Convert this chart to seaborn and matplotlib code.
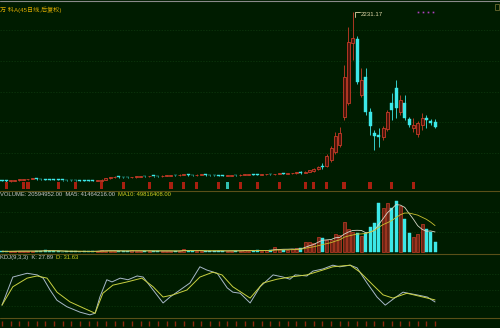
import matplotlib
matplotlib.use('Agg')
import matplotlib.pyplot as plt
import matplotlib.patches as mpatches
import seaborn as sns
import numpy as np
import pandas as pd

# ---------------- data ----------------
title = "万 科A(45日线,后复权)"
peak_label = "2231.17"
vol_label = "VOLUME: 20594952.00  MA5: 41464216.00  "
ma10_label = "MA10: 49816408.00"
kdj_label = "KDJ(9,3,3)  K: 27.89  "
d_label = "D: 31.63"

open_p = [48, 42, 38, 45, 50, 58, 62, 65, 66, 64, 60, 58, 55, 54, 52, 50, 48, 47, 46, 45,
          44, 42, 40, 45, 55, 75, 88, 92, 90, 88, 86, 90, 95, 100, 98, 104, 102, 100, 106, 110,
          115, 112, 118, 120, 115, 112, 118, 120, 116, 114, 112, 108, 106, 110, 115, 112, 118, 122, 125, 120,
          118, 124, 128, 125, 130, 135, 132, 138, 142,
          156, 149, 162, 169, 188, 233, 233, 311, 415, 506, 869, 1051, 1829, 1881, 1154, 1388,
          934, 661, 636, 610, 713, 1051, 1245, 934, 1051, 843, 726, 649, 765, 856, 817, 804]
close_p = [42, 38, 45, 50, 58, 62, 65, 66, 64, 60, 58, 55, 54, 52, 50, 48, 47, 46, 45, 44,
           42, 40, 45, 55, 75, 88, 92, 90, 88, 86, 90, 95, 100, 98, 104, 102, 100, 106, 110, 115,
           112, 118, 120, 115, 112, 118, 120, 116, 114, 112, 108, 106, 110, 115, 112, 118, 122, 125, 120, 118,
           124, 128, 125, 130, 135, 132, 138, 142, 148,
           149, 162, 175, 188, 220, 214, 363, 467, 623, 661, 1388, 1842, 1894, 1323, 1349, 934,
           752, 623, 610, 726, 934, 960, 986, 1089, 856, 765, 765, 791, 856, 830, 791, 739]
high_p = [54, 48, 51, 56, 64, 68, 71, 72, 72, 70, 66, 64, 61, 60, 58, 56, 54, 53, 52, 51,
          50, 48, 51, 61, 81, 94, 98, 98, 96, 94, 96, 101, 106, 106, 110, 110, 108, 112, 116, 121,
          121, 124, 126, 126, 121, 124, 126, 126, 122, 120, 118, 114, 116, 121, 121, 124, 128, 131, 131, 126,
          130, 134, 134, 136, 141, 141, 144, 148, 154,
          169, 169, 182, 201, 233, 272, 389, 493, 674, 739, 1543, 2036, 2231.17, 1920, 1505, 1505,
          986, 700, 726, 752, 960, 1180, 1349, 1154, 1154, 869, 856, 817, 921, 895, 843, 843]
low_p = [36, 32, 32, 39, 44, 52, 56, 59, 58, 54, 52, 49, 48, 46, 44, 42, 41, 40, 39, 38,
         36, 34, 34, 39, 49, 69, 82, 84, 82, 80, 80, 84, 89, 92, 92, 96, 94, 94, 100, 104,
         106, 106, 112, 109, 106, 106, 112, 110, 108, 106, 102, 100, 100, 104, 106, 106, 112, 116, 114, 112,
         112, 118, 119, 119, 124, 126, 126, 132, 136,
         136, 143, 156, 156, 182, 195, 220, 285, 389, 480, 830, 1025, 1608, 1297, 1128, 895,
         636, 441, 480, 571, 687, 830, 856, 895, 830, 739, 674, 610, 700, 726, 765, 726]

volume_m = [1.5, 1.2, 1.8, 2, 2.5, 2, 1.5, 1.8, 2.2, 3, 5,
            2, 1.5, 1.2, 1, 1.3, 1.5, 1.2, 1, 1.4, 1.6,
            2, 2.5, 4, 3, 2.5, 2, 1.8, 2.2, 2, 4,
            2.5, 2, 1.8, 2.5, 3, 2.2, 2, 1.8, 2.4, 2,
            3, 6, 3, 2.5, 2, 2.2, 1.8, 2, 2.5, 3,
            2, 2.4, 3, 2.6, 3, 3.5, 3, 2.8,
            4, 3, 3.5, 4, 10, 6, 5, 4, 6, 8,
            9, 21, 21, 19, 31, 29, 25, 25, 37, 35, 62, 47, 41, 39, 33, 39,
            52, 60, 101, 91, 101, 91, 105, 95, 68, 39, 31, 38, 58, 48, 42, 20.59]

signal_red = [1, 5, 6, 13, 17, 23, 28, 34, 39, 42, 45, 50, 55, 59, 64, 70, 72, 75, 79, 85, 90, 95]
signal_cyan = [52]

k_idx = [0, 2.5, 5.8, 8.1, 9.5, 11.1, 12.7, 15, 18, 20.3, 21.5, 22.6, 24.2, 25.4, 27.3, 29.1, 31.2,
         32.6, 34.9, 37.2, 38.8, 41.1, 43.4, 45.7, 47.3, 49.7, 52, 53.3, 55, 57.3, 59.6, 62.6, 64.9,
         66.5, 67.7, 70.4, 71.8, 74.1, 76.4, 78, 80.4, 82, 84.3, 86.6, 88.5, 90.3, 92.6, 93.8, 95.8,
         98.2, 100]
k_val = [22, 74, 81, 78, 72, 50, 31, 19, 9, 4, 7, 37, 69, 65, 72, 69, 76,
         74, 50, 26, 37, 50, 63, 93, 87, 81, 54, 46, 44, 26, 56, 78, 74,
         70, 78, 76, 85, 89, 96, 93, 96, 91, 63, 37, 22, 33, 46, 44, 41,
         37, 27.89]
d_idx = [0, 2.5, 5.8, 8.1, 10.4, 12.7, 15.7, 18.7, 21.5, 23.3, 25.6, 28.9, 32.3, 34.9, 37.2, 39.5,
         42.7, 45.7, 48.7, 50.8, 53.3, 57.3, 60.3, 63.5, 66.5, 70.4, 74.1, 76.4, 80.4, 82.7, 85.7,
         88, 90.3, 93.5, 97.2, 100]
d_val = [22, 56, 72, 76, 72, 46, 28, 17, 7, 44, 59, 65, 72, 56, 37, 41,
         50, 74, 83, 78, 56, 35, 63, 70, 74, 78, 87, 93, 96, 83, 59,
         41, 35, 44, 37, 31.63]

# ---------------- style ----------------
BG = '#001c00'
RED = '#c83c28'
RED_FILL = '#4a140a'
CYAN = '#3ce8e8'
SEP = '#5a5018'
GRID = '#0e3a0e'

sns.set_theme(style='dark')
plt.rcParams['font.family'] = ['Liberation Sans', 'Noto Sans CJK SC', 'DejaVu Sans']

W, H = 500, 328
fig = plt.figure(figsize=(W / 100, H / 100), dpi=100, facecolor=BG)


def add_ax(ytop, ybot):
    ax = fig.add_axes([0, 1 - ybot / H, 1, (ybot - ytop) / H])
    ax.set_facecolor(BG)
    for s in ax.spines.values():
        s.set_visible(False)
    ax.set_xticks([])
    ax.set_yticks([])
    ax.grid(False)
    ax.set_xlim(-0.46, 115.0)
    return ax


df = pd.DataFrame({'open': open_p, 'close': close_p, 'high': high_p, 'low': low_p,
                   'vol': volume_m})
df['idx'] = np.arange(len(df))
df['up'] = df['close'] >= df['open']
df['ma5'] = df['vol'].rolling(5, min_periods=1).mean()
df['ma10'] = df['vol'].rolling(10, min_periods=1).mean()

# ---------- price panel ----------
axp = add_ax(2, 190)
axp.set_ylim(-78, 2361)
for g in [1997, 1595, 1193, 804, 402]:
    axp.axhline(g, color=GRID, lw=0.5, ls=(0, (2, 2)), zorder=0)

bw = 0.7
up = df[df['up']]
dn = df[~df['up']]
axp.vlines(up['idx'], up['low'], up['high'], color=RED, lw=0.6, zorder=2)
axp.vlines(dn['idx'], dn['low'], dn['high'], color=CYAN, lw=0.6, zorder=2)
minh = 9
axp.bar(up['idx'], np.maximum(up['close'] - up['open'], minh), bottom=up['open'], width=bw,
        facecolor=RED_FILL, edgecolor=RED, lw=0.6, zorder=3)
axp.bar(dn['idx'], np.maximum(dn['open'] - dn['close'], minh), bottom=dn['close'], width=bw,
        facecolor=CYAN, edgecolor=CYAN, lw=0.3, zorder=3)

# signal markers at bottom of price panel
axp.bar(signal_red, 90, bottom=-65, width=0.75, color='#a82010', edgecolor='none', lw=0, zorder=4)
axp.bar(signal_cyan, 90, bottom=-65, width=0.75, color='#30c0b0', edgecolor='none', lw=0, zorder=4)

# peak annotation
pk = int(np.argmax(df['high']))
pv = df['high'].iloc[pk]
axp.plot([pk + 0.5, pk + 0.5, pk + 1.6], [pv - 60, pv, pv], color='#e0d8a8', lw=0.6, zorder=5)
axp.text(pk + 1.9, pv - 30, peak_label, color='#e0d8a8', fontsize=4.4, va='center',
         ha='left', zorder=5)

axp.text(0.0, 0.975, title, transform=axp.transAxes, color='#d8a800', fontsize=4.4,
         va='top', ha='left')
for xx in [0.836, 0.846, 0.856, 0.866]:
    axp.plot([xx], [0.945], transform=axp.transAxes, marker='s', ms=1.2, color='#b040c0', mec='none')

# ---------- volume panel ----------
axv = add_ax(191, 253)
axv.set_ylim(-2, 125.7)
for g in [82, 41]:
    axv.axhline(g, color=GRID, lw=0.5, ls=(0, (2, 2)), zorder=0)
axv.bar(up['idx'], up['vol'], width=bw, facecolor='#6a2414', edgecolor=RED, lw=0.5, zorder=2)
axv.bar(dn['idx'], dn['vol'], width=bw, facecolor=CYAN, edgecolor=CYAN, lw=0.3, zorder=2)
sns.lineplot(data=df, x='idx', y='ma5', ax=axv, color='#d8d8c8', lw=0.6, zorder=3)
sns.lineplot(data=df, x='idx', y='ma10', ax=axv, color='#c8c030', lw=0.6, zorder=3)
axv.set_xlabel('')
axv.set_ylabel('')
axv.set_xticks([])
axv.set_yticks([])
axv.set_xlim(-0.46, 115.0)
t1 = axv.text(0.0, 0.985, vol_label, transform=axv.transAxes, color='#c8c8c8', fontsize=4.2,
              va='top', ha='left')
fig.canvas.draw()
bb = t1.get_window_extent()
x_end = axv.transAxes.inverted().transform((bb.x1, bb.y0))[0]
axv.text(x_end, 0.985, ma10_label, transform=axv.transAxes, color='#d0d020', fontsize=4.2,
         va='top', ha='left')

# ---------- KDJ panel ----------
axk = add_ax(254, 318)
axk.set_ylim(-1.85, 116.7)
for g in [20, 50, 80]:
    axk.axhline(g, color=GRID, lw=0.5, ls=(0, (2, 2)), zorder=0)
kdf = pd.DataFrame({'idx': k_idx, 'K': k_val})
ddf = pd.DataFrame({'idx': d_idx, 'D': d_val})
sns.lineplot(data=kdf, x='idx', y='K', ax=axk, color='#a8b8c8', lw=0.7)
sns.lineplot(data=ddf, x='idx', y='D', ax=axk, color='#c8d040', lw=0.7)
axk.set_xlabel('')
axk.set_ylabel('')
axk.set_xticks([])
axk.set_yticks([])
axk.set_xlim(-0.46, 115.0)
t2 = axk.text(0.0, 0.985, kdj_label, transform=axk.transAxes, color='#c8c8c8', fontsize=4.2,
              va='top', ha='left')
fig.canvas.draw()
bb = t2.get_window_extent()
x_end = axk.transAxes.inverted().transform((bb.x1, bb.y0))[0]
axk.text(x_end, 0.985, d_label, transform=axk.transAxes, color='#d0d020', fontsize=4.2,
         va='top', ha='left')

# ---------- date strip ----------
axd = add_ax(318, 328)
axd.set_ylim(0, 1)
axd.vlines(df['idx'][::2], 0.25, 0.75, color='#8a2a10', lw=1.0)

# separators
for ypx in [1, 190.5, 253.5, 318]:
    fig.add_artist(plt.Line2D([0, 1], [1 - ypx / H, 1 - ypx / H], transform=fig.transFigure,
                              color=SEP if ypx > 2 else '#8a8a8a', lw=0.8))
fig.add_artist(mpatches.Rectangle((495 / W, 1 - 10 / H), 4 / W, 6 / H, transform=fig.transFigure,
                                  fill=False, edgecolor='#6a6a30', lw=0.6))

fig.savefig('out.png', dpi=100, facecolor=BG)
